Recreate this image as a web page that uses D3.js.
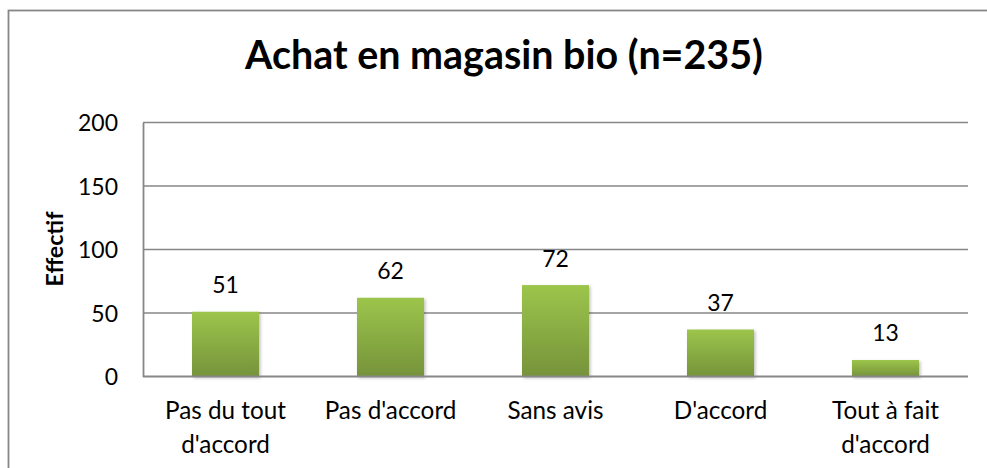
<!DOCTYPE html>
<html><head><meta charset="utf-8">
<script src="https://cdn.jsdelivr.net/npm/d3@7"></script>
<style>html,body{margin:0;padding:0;background:#fff;}svg{display:block;}</style>
</head><body>
<script>
const title = "Achat en magasin bio (n=235)";
const yTitle = "Effectif";
const categories = ["Pas du tout\nd'accord", "Pas d'accord", "Sans avis", "D'accord", "Tout à fait\nd'accord"];
const values = [51, 62, 72, 37, 13];
const yTicks = [0, 50, 100, 150, 200];

const W = 987, H = 468;
const FONT = "Lato, 'Open Sans', sans-serif";
const svg = d3.select("body").append("svg").attr("width", W).attr("height", H);

const defs = svg.append("defs");
const grad = defs.append("linearGradient").attr("id", "barGrad").attr("x1", 0).attr("y1", 0).attr("x2", 0).attr("y2", 1);
grad.append("stop").attr("offset", "0%").attr("stop-color", "#9cc54b");
grad.append("stop").attr("offset", "100%").attr("stop-color", "#76933b");
const filt = defs.append("filter").attr("id", "shadow").attr("x", "-20%").attr("y", "-20%").attr("width", "140%").attr("height", "140%");
filt.append("feDropShadow").attr("dx", 1.5).attr("dy", 1.5).attr("stdDeviation", 1.5).attr("flood-color", "#000").attr("flood-opacity", 0.25);

// outer chart border
svg.append("rect").attr("x", 8.5).attr("y", 10.5).attr("width", W + 10).attr("height", H + 10)
  .attr("fill", "none").attr("stroke", "#878787").attr("stroke-width", 1.8);

const m = {left: 143, right: 968, top: 122.5, bottom: 376.5};
const x = d3.scaleBand().domain(categories).range([m.left, m.right]).paddingInner(0.594).paddingOuter(0.297);
const y = d3.scaleLinear().domain([0, 200]).range([m.bottom, m.top]);

// font size at which a string reaches a target width
function sizeFor(str, weight, target) {
  const p = svg.append("text").attr("font-family", FONT).attr("font-size", 20)
    .attr("font-weight", weight).text(str);
  const len = p.node().getComputedTextLength();
  p.remove();
  return 20 * target / len;
}

// gridlines
svg.append("g").selectAll("line").data(yTicks.filter(d => d > 0)).join("line")
  .attr("x1", m.left).attr("x2", m.right).attr("y1", d => y(d)).attr("y2", d => y(d))
  .attr("stroke", "#878787").attr("stroke-width", 1.5);

const TS = sizeFor("200", "normal", 40);
// y axis
const yAxis = svg.append("g").attr("transform", `translate(${m.left},0)`)
  .call(d3.axisLeft(y).tickValues(yTicks).tickSize(0).tickPadding(25));
yAxis.select(".domain").attr("stroke", "#878787").attr("stroke-width", 1.8);
yAxis.selectAll("text").attr("font-family", FONT).attr("font-size", TS).attr("fill", "#000")
  .attr("dy", "0.36em");

// bars
svg.append("g").selectAll("rect").data(values).join("rect")
  .attr("x", (d, i) => x(categories[i]))
  .attr("y", d => y(d))
  .attr("width", x.bandwidth())
  .attr("height", d => y(0) - y(d))
  .attr("fill", "url(#barGrad)")
  .attr("filter", "url(#shadow)");

// x axis line
svg.append("line").attr("x1", m.left).attr("x2", m.right).attr("y1", y(0)).attr("y2", y(0))
  .attr("stroke", "#878787").attr("stroke-width", 1.8);

// value labels
svg.append("g").selectAll("text").data(values).join("text")
  .attr("x", (d, i) => x(categories[i]) + x.bandwidth() / 2)
  .attr("y", d => y(d) - 18.5)
  .attr("text-anchor", "middle").attr("font-family", FONT).attr("font-size", TS)
  .attr("fill", "#000")
  .text(d => d);

// category labels
const CS = sizeFor("Pas du tout", "normal", 121);
svg.append("g").selectAll("text").data(categories).join("text")
  .attr("y", 419)
  .attr("text-anchor", "middle").attr("font-family", FONT).attr("font-size", CS)
  .attr("fill", "#000")
  .each(function(d) {
    const t = d3.select(this);
    d.split("\n").forEach((ln, k) => {
      t.append("tspan").attr("x", x(d) + x.bandwidth() / 2).attr("dy", k === 0 ? 0 : 33.5).text(ln);
    });
  });

// title
svg.append("text").attr("x", (245 + 763) / 2).attr("y", 69)
  .attr("text-anchor", "middle").attr("font-family", FONT).attr("font-weight", "bold")
  .attr("font-size", sizeFor(title, "bold", 518))
  .attr("fill", "#000").text(title);

// y axis title
svg.append("text").attr("transform", `translate(62.5,249) rotate(-90)`)
  .attr("text-anchor", "middle").attr("font-family", FONT).attr("font-weight", "bold")
  .attr("font-size", sizeFor(yTitle, "bold", 75))
  .attr("fill", "#000").text(yTitle);
</script>
</body></html>
